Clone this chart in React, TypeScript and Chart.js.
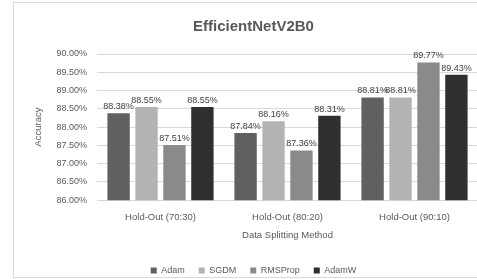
import React, { useEffect, useRef } from "react";
import { Chart, registerables } from "chart.js";

Chart.register(...registerables);

const categories = ["Hold-Out (70:30)", "Hold-Out (80:20)", "Hold-Out (90:10)"];
const seriesNames = ["Adam", "SGDM", "RMSProp", "AdamW"];
const adam = [88.38, 87.84, 88.81];
const sgdm = [88.55, 88.16, 88.81];
const rmsprop = [87.51, 87.36, 89.77];
const adamw = [88.55, 88.31, 89.43];
const seriesColors = ["#606060", "#b3b3b3", "#8a8a8a", "#2f2f2f"];
const yTicks = { min: 86, max: 90, step: 0.5 };

const FONT = "'Liberation Sans', Arial, sans-serif";
const TEXT = "#595959";

const labelPlugin = {
  id: "barLabels",
  afterDatasetsDraw(chart: any) {
    const ctx = chart.ctx;
    ctx.save();
    ctx.font = `9px ${FONT}`;
    ctx.fillStyle = "#404040";
    ctx.textAlign = "center";
    ctx.textBaseline = "bottom";
    chart.data.datasets.forEach((ds: any, i: number) => {
      const meta = chart.getDatasetMeta(i);
      meta.data.forEach((el: any, j: number) => {
        ctx.fillText(ds.data[j].toFixed(2) + "%", el.x, el.y - 2);
      });
    });
    ctx.restore();
  },
};

export default function App() {
  const ref = useRef<HTMLCanvasElement>(null);
  useEffect(() => {
    document.body.style.margin = "0";
    const all = [adam, sgdm, rmsprop, adamw];
    const chart = new Chart(ref.current!, {
      type: "bar",
      data: {
        labels: categories,
        datasets: seriesNames.map((n, i) => ({
          label: n,
          data: all[i],
          backgroundColor: seriesColors[i],
          categoryPercentage: 0.88,
          barPercentage: 0.8,
        })),
      },
      options: {
        animation: false,
        responsive: false,
        maintainAspectRatio: false,
        layout: { padding: { left: 15, right: 6, top: 0, bottom: 0 } },
        plugins: {
          title: {
            display: true,
            text: "EfficientNetV2B0",
            color: TEXT,
            font: { family: FONT, size: 15, weight: "bold" },
            padding: { top: 15, bottom: 18 },
          },
          legend: {
            position: "bottom",
            labels: {
              color: TEXT,
              font: { family: FONT, size: 9 },
              boxWidth: 6,
              boxHeight: 6,
              padding: 14,
            },
          },
          tooltip: { enabled: false },
        },
        scales: {
          x: {
            grid: { display: false },
            border: { color: "#d9d9d9" },
            ticks: { color: TEXT, font: { family: FONT, size: 9.5 }, padding: 3 },
            title: {
              display: true,
              text: "Data Splitting Method",
              color: TEXT,
              font: { family: FONT, size: 9.5 },
              padding: { top: 4, bottom: 11 },
            },
          },
          y: {
            min: yTicks.min,
            max: yTicks.max,
            afterFit(scale: any) {
              scale.width = 68;
            },
            grid: { color: "#d9d9d9", drawTicks: false },
            border: { display: false },
            ticks: {
              stepSize: yTicks.step,
              color: TEXT,
              font: { family: FONT, size: 9 },
              padding: 10,
              callback: (v: any) => Number(v).toFixed(2) + "%",
            },
            title: {
              display: true,
              text: "Accuracy",
              color: TEXT,
              font: { family: FONT, size: 9.5 },
              padding: { top: 4, bottom: 0 },
            },
          },
        },
      },
      plugins: [labelPlugin],
    });
    return () => chart.destroy();
  }, []);
  return (
    <div
      style={{
        position: "absolute",
        left: 13,
        top: 2,
        width: 470,
        height: 274,
        border: "1px solid #d9d9d9",
        background: "#fff",
        overflow: "hidden",
      }}
    >
      <canvas ref={ref} width={470} height={282} style={{ display: "block" }} />
    </div>
  );
}
